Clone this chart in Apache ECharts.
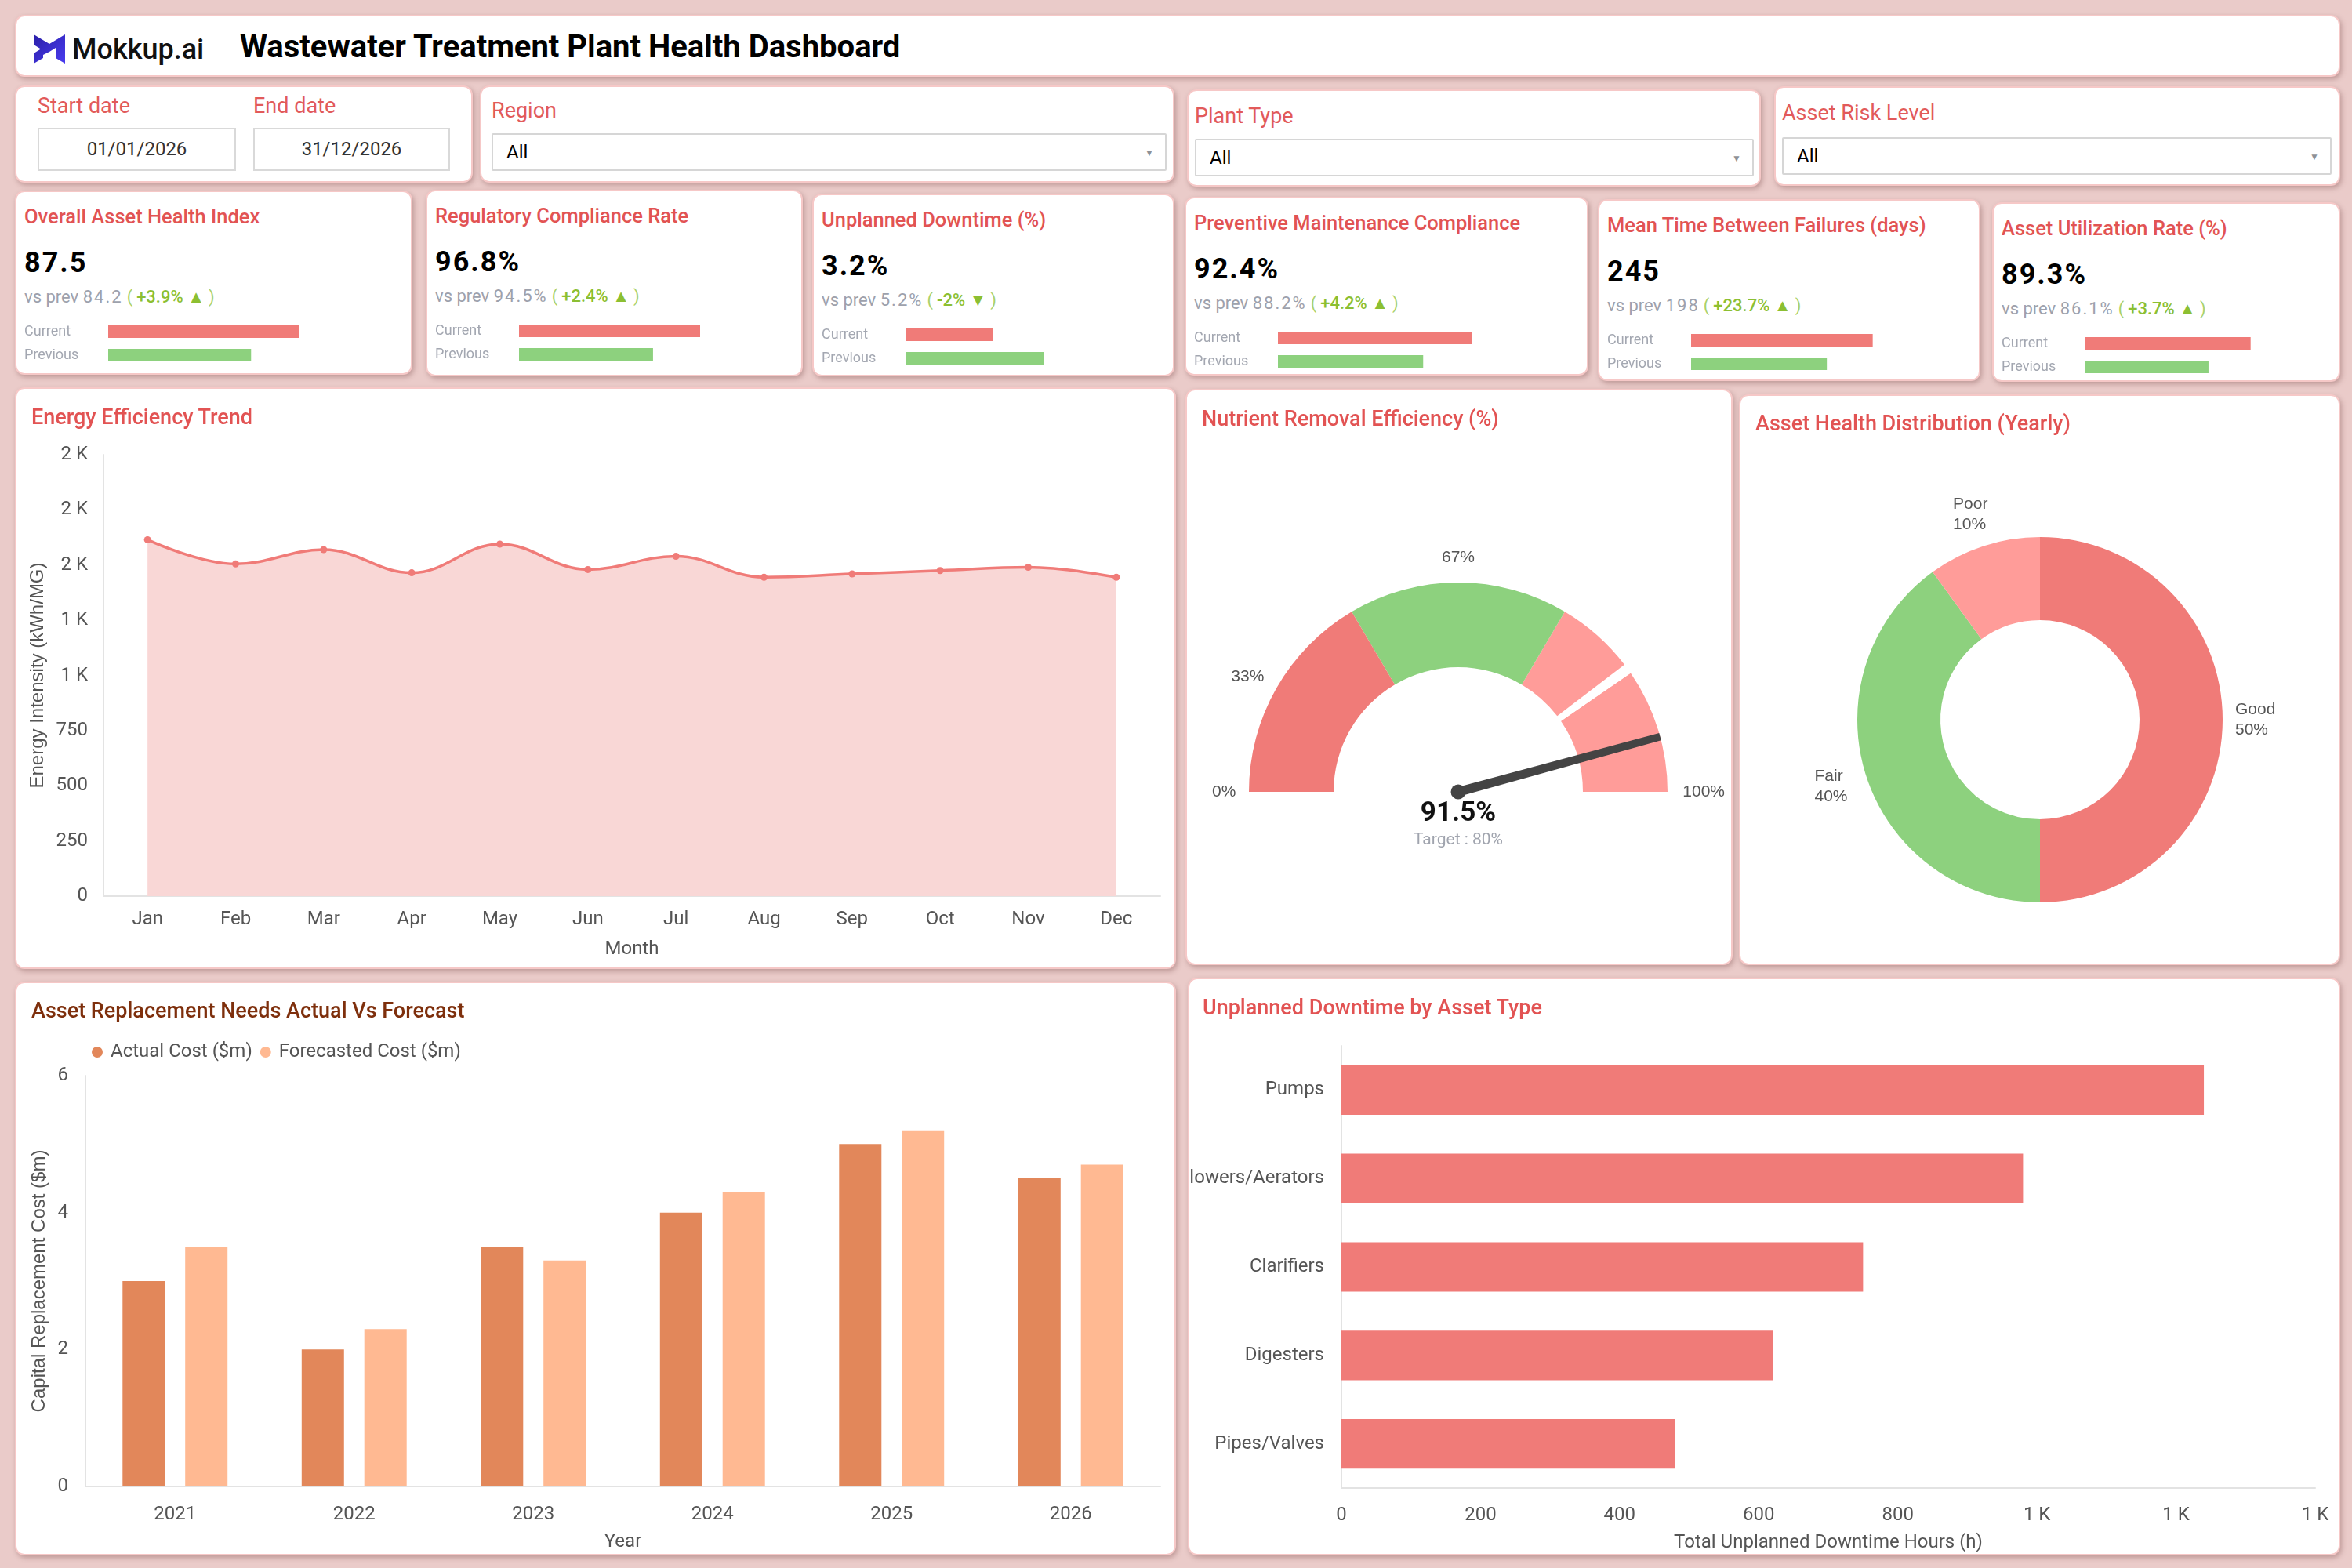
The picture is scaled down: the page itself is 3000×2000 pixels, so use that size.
<!DOCTYPE html>
<html>
<head>
<meta charset="utf-8">
<title>Wastewater Treatment Plant Health Dashboard</title>
<script src="https://cdn.jsdelivr.net/npm/echarts@6.0.0/dist/echarts.min.js"></script>
<style>
html, body { margin: 0; padding: 0; }
body {
  width: 3000px;
  height: 2000px;
  position: relative;
  overflow: hidden;
  background-color: #EACBC9;
  font-family: Roboto, "Noto Sans", sans-serif;
}
.card {
  position: absolute;
  box-sizing: border-box;
  background-color: #fff;
  border: 2px solid #F6C8C7;
  border-radius: 12px;
  box-shadow: 2px 3px 6px rgba(110, 60, 60, 0.35);
}
.card_title {
  position: absolute;
  left: 19px;
  top: 21px;
  font-size: 27px;
  font-weight: 500;
  line-height: 30px;
  color: #E25353;
  white-space: nowrap;
}
.chart {
  position: absolute;
  left: 0;
  top: 0;
  width: 100%;
  height: 100%;
}
.logo_text {
  position: absolute;
  left: 71px;
  top: 22px;
  font-size: 36px;
  font-weight: 500;
  line-height: 40px;
  color: #111;
}
.head_title {
  position: absolute;
  left: 285px;
  top: 17px;
  font-size: 40px;
  font-weight: 700;
  line-height: 44px;
  color: #000;
  white-space: nowrap;
}
.flabel {
  position: absolute;
  font-size: 27px;
  line-height: 30px;
  color: #E25A5A;
  white-space: nowrap;
}
.datebox {
  position: absolute;
  box-sizing: border-box;
  top: 52px;
  height: 55px;
  border: 2px solid #D9D9D9;
  text-align: center;
  font-size: 24px;
  line-height: 51px;
  color: #333;
}
.select {
  position: absolute;
  box-sizing: border-box;
  height: 48px;
  border: 2px solid #D6D6D6;
  border-radius: 2px;
  font-size: 24px;
  line-height: 44px;
  padding-left: 17px;
  color: #000;
}
.select .arrow {
  position: absolute;
  right: 14px;
  top: 1px;
  font-size: 12px;
  color: #8E9196;
}
.kpi_title {
  position: absolute;
  left: 10px;
  top: 17px;
  font-size: 25.5px;
  font-weight: 500;
  line-height: 28px;
  color: #E25353;
  white-space: nowrap;
}
.kpi_value {
  position: absolute;
  left: 10px;
  top: 70px;
  font-size: 36px;
  font-weight: 700;
  line-height: 40px;
  letter-spacing: 2px;
  color: #000;
}
.kpi_prev {
  position: absolute;
  left: 10px;
  top: 121px;
  font-size: 22px;
  line-height: 26px;
  color: #9DA1AC;
  white-space: nowrap;
}
.kpi_prev .num { letter-spacing: 2px; }
.kpi_prev .paren { color: #A9D16A; margin: 0 5px; }
.kpi_prev .delta { color: #8CBF32; font-weight: 500; }
.kpi_bars {
  position: absolute;
  left: 10px;
  top: 163px;
  height: 60px;
}
</style>
</head>
<body>

<!-- 顶部标题栏 -->
<div class="card" style="left:19px;top:19px;width:2966px;height:79px;">
  <svg style="position:absolute;left:22px;top:23px;" width="40" height="37" viewBox="0 0 40 37">
    <defs>
      <linearGradient id="lg" x1="0" y1="0" x2="1" y2="1">
        <stop offset="0" stop-color="#2A1FA8"/>
        <stop offset="1" stop-color="#4A3CF0"/>
      </linearGradient>
    </defs>
    <path d="M0 0 L20 12 L40 0 L40 37 L28 30 L28 17 L20 22 L12 17 L20 22 L12 26 L12 30 L0 37 L0 24 L9 18.5 L0 13 Z" fill="url(#lg)"/>
  </svg>
  <div class="logo_text">Mokkup.ai</div>
  <div style="position:absolute;left:268px;top:18px;width:1px;height:39px;background-color:#9A9A9A;"></div>
  <div class="head_title">Wastewater Treatment Plant Health Dashboard</div>
</div>

<!-- 筛选条件 -->
<div class="card" style="left:19px;top:109px;width:584px;height:124px;">
  <div class="flabel" style="left:27px;top:9px;">Start date</div>
  <div class="flabel" style="left:302px;top:9px;">End date</div>
  <div class="datebox" style="left:27px;width:253px;">01/01/2026</div>
  <div class="datebox" style="left:302px;width:251px;">31/12/2026</div>
</div>
<div class="card" style="left:612px;top:109px;width:886px;height:124px;">
  <div class="flabel" style="left:13px;top:15px;">Region</div>
  <div class="select" style="left:13px;top:59px;width:861px;">All<span class="arrow">▼</span></div>
</div>
<div class="card" style="left:1514px;top:114px;width:732px;height:124px;">
  <div class="flabel" style="left:8px;top:17px;">Plant Type</div>
  <div class="select" style="left:8px;top:61px;width:713px;">All<span class="arrow">▼</span></div>
</div>
<div class="card" style="left:2263px;top:110px;width:722px;height:127px;">
  <div class="flabel" style="left:8px;top:17px;">Asset Risk Level</div>
  <div class="select" style="left:8px;top:63px;width:701px;">All<span class="arrow">▼</span></div>
</div>

<!-- KPI 卡片 -->
<div class="card" id="kpi0" style="left:19px;top:243px;width:507px;height:235px;"><div class="kpi_bars" id="kpiBars0" style="width:354px;"></div></div>
<div class="card" id="kpi1" style="left:543px;top:242px;width:481px;height:238px;"><div class="kpi_bars" id="kpiBars1" style="width:342px;"></div></div>
<div class="card" id="kpi2" style="left:1036px;top:247px;width:462px;height:233px;"><div class="kpi_bars" id="kpiBars2" style="width:334px;"></div></div>
<div class="card" id="kpi3" style="left:1511px;top:251px;width:515px;height:228px;"><div class="kpi_bars" id="kpiBars3" style="width:358px;"></div></div>
<div class="card" id="kpi4" style="left:2038px;top:254px;width:488px;height:232px;"><div class="kpi_bars" id="kpiBars4" style="width:345px;"></div></div>
<div class="card" id="kpi5" style="left:2541px;top:258px;width:444px;height:229px;"><div class="kpi_bars" id="kpiBars5" style="width:326px;"></div></div>

<!-- 图表区域 -->
<div class="card" style="left:19px;top:494px;width:1481px;height:742px;">
  <div class="chart" id="energy"></div>
  <div class="card_title">Energy Efficiency Trend</div>
</div>
<div class="card" style="left:1512px;top:496px;width:698px;height:735px;">
  <div class="chart" id="nutrient"></div>
  <div class="card_title">Nutrient Removal Efficiency (%)</div>
</div>
<div class="card" style="left:2218px;top:503px;width:767px;height:728px;">
  <div class="chart" id="health"></div>
  <div class="card_title" style="top:20px;">Asset Health Distribution (Yearly)</div>
</div>
<div class="card" style="left:19px;top:1252px;width:1481px;height:732px;">
  <div class="chart" id="replacement"></div>
  <div class="card_title" style="top:20px;color:#7E2F0C;">Asset Replacement Needs Actual Vs Forecast</div>
</div>
<div class="card" style="left:1515px;top:1247px;width:1470px;height:737px;">
  <div class="chart" id="downtime"></div>
  <div class="card_title" style="left:17px;">Unplanned Downtime by Asset Type</div>
</div>

<script>
// KPI 数据
const kpiTitles = ['Overall Asset Health Index', 'Regulatory Compliance Rate', 'Unplanned Downtime (%)',
  'Preventive Maintenance Compliance', 'Mean Time Between Failures (days)', 'Asset Utilization Rate (%)'];
const kpiValues = ['87.5', '96.8%', '3.2%', '92.4%', '245', '89.3%'];
const kpiPrevious = ['84.2', '94.5%', '5.2%', '88.2%', '198', '86.1%'];
const kpiChange = ['+3.9%', '+2.4%', '-2%', '+4.2%', '+23.7%', '+3.7%'];
const kpiTrendUp = [true, true, false, true, true, true];
const kpiBarCurrent = [100, 100, 50, 100, 99, 98];
const kpiBarPrevious = [75, 74, 79, 75, 74, 73];
const barLabels = ['Current', 'Previous'];

// 能效趋势
const months = ['Jan', 'Feb', 'Mar', 'Apr', 'May', 'Jun', 'Jul', 'Aug', 'Sep', 'Oct', 'Nov', 'Dec'];
const energyIntensity = [1615, 1505, 1570, 1465, 1595, 1480, 1540, 1445, 1460, 1475, 1490, 1445];

// 营养物去除效率
const nutrientValue = 91.5;
const nutrientTarget = 80;
const gaugeBands = [33, 67, 100];

// 资产健康分布
const healthNames = ['Good', 'Fair', 'Poor'];
const healthShares = [50, 40, 10];

// 资产更换需求
const years = ['2021', '2022', '2023', '2024', '2025', '2026'];
const actualCost = [3.0, 2.0, 3.5, 4.0, 5.0, 4.5];
const forecastCost = [3.5, 2.3, 3.3, 4.3, 5.2, 4.7];

// 按资产类型的停机时间
const assetTypes = ['Pumps', 'Blowers/Aerators', 'Clarifiers', 'Digesters', 'Pipes/Valves'];
const downtimeHours = [1240, 980, 750, 620, 480];

const RED = '#F07B78';
const GREEN = '#8DD17E';
const PINK = '#FF9C99';
const AXIS_TEXT = '#555';
const AXIS_LINE = '#E3E3E3';
const TICK_FONT = {color: AXIS_TEXT, fontSize: 24, fontFamily: 'Roboto'};

function kFormat(v) {
  return v >= 1000 ? Math.round(v / 1000) + ' K' : String(v);
}

// KPI 卡片
kpiTitles.forEach(function (title, i) {
  let card = document.getElementById('kpi' + i);
  let text = document.createElement('div');
  text.innerHTML =
    '<div class="kpi_title">' + title + '</div>' +
    '<div class="kpi_value">' + kpiValues[i] + '</div>' +
    '<div class="kpi_prev">vs prev <span class="num">' + kpiPrevious[i] + '</span>' +
    '<span class="paren">(</span><span class="delta">' + kpiChange[i] + ' ' + (kpiTrendUp[i] ? '▲' : '▼') +
    '</span><span class="paren">)</span></div>';
  card.insertBefore(text, card.firstChild);

  let el = document.getElementById('kpiBars' + i);
  let chart = echarts.init(el, null);
  chart.setOption({
    animation: false,
    grid: {left: 107, right: el.offsetWidth - 107 - [243, 231, 223, 247, 234, 215][i], top: 0, bottom: 0, outerBoundsMode: 'none'},
    xAxis: {type: 'value', min: 0, max: 100, show: false},
    yAxis: {
      type: 'category', data: barLabels, inverse: true,
      axisLine: {show: false}, axisTick: {show: false},
      axisLabel: {align: 'left', margin: 107, color: '#A3A7B1', fontSize: 18, fontFamily: 'Roboto'}
    },
    series: [{
      type: 'bar', barWidth: 16,
      data: [
        {value: kpiBarCurrent[i], itemStyle: {color: RED}},
        {value: kpiBarPrevious[i], itemStyle: {color: GREEN}}
      ]
    }]
  });
});

// 能效趋势
let energyChart = echarts.init(document.getElementById('energy'), null);
energyChart.setOption({
  animation: false,
  grid: {left: 111, right: 18, top: 84, bottom: 91, outerBoundsMode: 'none'},
  xAxis: {
    type: 'category', data: months,
    axisLine: {lineStyle: {color: AXIS_LINE, width: 2}},
    axisTick: {show: false},
    axisLabel: Object.assign({margin: 18}, TICK_FONT),
    name: 'Month', nameLocation: 'middle', nameGap: 56,
    nameTextStyle: TICK_FONT
  },
  yAxis: {
    type: 'value', min: 0, max: 2000, interval: 250,
    axisLine: {show: true, lineStyle: {color: AXIS_LINE, width: 2}},
    splitLine: {show: false},
    axisLabel: Object.assign({margin: 20, formatter: kFormat}, TICK_FONT),
    name: 'Energy Intensity (kWh/MG)', nameLocation: 'middle', nameGap: 58,
    nameTextStyle: {color: AXIS_TEXT, fontSize: 24, fontFamily: 'Liberation Sans'}
  },
  series: [{
    type: 'line', data: energyIntensity, smooth: 0.4,
    symbol: 'circle', symbolSize: 9,
    lineStyle: {color: RED, width: 3.5},
    itemStyle: {color: RED},
    areaStyle: {color: '#F9D7D6', opacity: 1}
  }]
});

// 营养物去除效率仪表盘
const G_CENTER = [346, 512];
const G_RADIUS = 267;

// 只显示刻度文字的辅助仪表
function gaugeLabel(startAngle, endAngle, lo, hi, distance, shown) {
  return {
    type: 'gauge', center: G_CENTER, radius: G_RADIUS, silent: true,
    startAngle: startAngle, endAngle: endAngle, min: lo, max: hi, splitNumber: 1,
    axisLine: {show: false}, splitLine: {show: false, length: 0}, axisTick: {show: false},
    pointer: {show: false}, anchor: {show: false}, title: {show: false}, detail: {show: false},
    axisLabel: {
      distance: distance, color: AXIS_TEXT, fontSize: 21, fontFamily: 'Liberation Sans',
      formatter: function (v) { return Math.round(v) === shown ? shown + '%' : ''; }
    },
    data: [{value: lo}]
  };
}

let nutrientChart = echarts.init(document.getElementById('nutrient'), null);
let gap = nutrientTarget / 100;
nutrientChart.setOption({
  animation: false,
  series: [
    {
      type: 'gauge', center: G_CENTER, radius: G_RADIUS,
      startAngle: 180, endAngle: 0, min: 0, max: 100,
      axisLine: {lineStyle: {width: 108, color: [
        [gaugeBands[0] / 100, RED], [gaugeBands[1] / 100, GREEN],
        [gap - 0.008, PINK], [gap + 0.008, '#fff'], [gaugeBands[2] / 100, PINK]
      ]}},
      splitLine: {show: false},
      axisTick: {show: false},
      axisLabel: {show: false},
      pointer: {icon: 'path://M1 0 L9 0 L10 100 L0 100 Z', length: '100%', width: 12, itemStyle: {color: '#444'}},
      anchor: {show: true, size: 19, itemStyle: {color: '#444'}},
      title: {offsetCenter: [0, 62], color: '#A0A4AE', fontSize: 21, fontFamily: 'Roboto'},
      detail: {offsetCenter: [0, 28], color: '#111', fontSize: 35, fontWeight: 'bold', fontFamily: 'Roboto', formatter: '{value}%'},
      data: [{value: nutrientValue, name: 'Target : ' + nutrientTarget + '%'}]
    },
    gaugeLabel(180, 0, 0, 100, -57, 0),
    gaugeLabel(180, 0, 0, 100, -83, 100),
    gaugeLabel(153.2, 90, gaugeBands[0], gaugeBands[1], -67.5, gaugeBands[0]),
    gaugeLabel(153.2, 90, gaugeBands[0], gaugeBands[1], -52, gaugeBands[1])
  ]
});

// 资产健康分布
let healthChart = echarts.init(document.getElementById('health'), null);
let healthData = healthNames.map(function (n, i) {
  return {name: n, value: healthShares[i], itemStyle: {color: [RED, GREEN, PINK][i]}};
});
healthChart.setOption({
  animation: false,
  series: [
    {
      type: 'pie', center: [382, 413], radius: [127, 233], startAngle: 90,
      label: {show: false}, labelLine: {show: false},
      data: healthData
    },
    {
      // 标签环（透明）
      type: 'pie', center: [382, 413], radius: [270, 274], startAngle: 90, silent: true,
      itemStyle: {color: 'rgba(0,0,0,0)'},
      label: {
        position: 'inside', overflow: 'none',
        formatter: '{t|{b}}\n{t|{d}%}',
        rich: {t: {width: 52, align: 'left', color: AXIS_TEXT, fontSize: 21, lineHeight: 26, fontFamily: 'Liberation Sans'}}
      },
      labelLine: {show: false},
      data: healthNames.map(function (n, i) {
        return {name: n, value: healthShares[i], itemStyle: {color: 'rgba(0,0,0,0)'}};
      })
    }
  ]
});

// 资产更换需求
let replacementChart = echarts.init(document.getElementById('replacement'), null);
replacementChart.setOption({
  animation: false,
  legend: {
    left: 91, top: 71, icon: 'circle', itemWidth: 14, itemHeight: 14, itemGap: 10,
    textStyle: {color: AXIS_TEXT, fontSize: 24, fontFamily: 'Roboto', padding: [0, 0, 0, 5]}
  },
  grid: {left: 88, right: 18, top: 118, bottom: 86, outerBoundsMode: 'none'},
  xAxis: {
    type: 'category', data: years,
    axisLine: {lineStyle: {color: AXIS_LINE, width: 2}},
    axisTick: {show: false},
    axisLabel: Object.assign({margin: 24}, TICK_FONT),
    name: 'Year', nameLocation: 'middle', nameGap: 59,
    nameTextStyle: TICK_FONT
  },
  yAxis: {
    type: 'value', min: 0, max: 6, interval: 2,
    axisLine: {show: true, lineStyle: {color: AXIS_LINE, width: 2}},
    splitLine: {show: false},
    axisLabel: Object.assign({margin: 22}, TICK_FONT),
    name: 'Capital Replacement Cost ($m)', nameLocation: 'middle', nameGap: 36,
    nameTextStyle: {color: AXIS_TEXT, fontSize: 24, fontFamily: 'Liberation Sans'}
  },
  series: [
    {name: 'Actual Cost ($m)', type: 'bar', data: actualCost, barWidth: 54, barGap: '48%', itemStyle: {color: '#E2875A'}},
    {name: 'Forecasted Cost ($m)', type: 'bar', data: forecastCost, barWidth: 54, itemStyle: {color: '#FFB992'}}
  ]
});

// 按资产类型的停机时间
let downtimeChart = echarts.init(document.getElementById('downtime'), null);
downtimeChart.setOption({
  animation: false,
  grid: {left: 194, right: 30, top: 85, bottom: 84, outerBoundsMode: 'none'},
  xAxis: {
    type: 'value', min: 0, max: 1400, interval: 200,
    axisLine: {show: true, lineStyle: {color: AXIS_LINE, width: 2}},
    splitLine: {show: false},
    axisLabel: Object.assign({margin: 23, formatter: kFormat}, TICK_FONT),
    name: 'Total Unplanned Downtime Hours (h)', nameLocation: 'middle', nameGap: 58,
    nameTextStyle: TICK_FONT
  },
  yAxis: {
    type: 'category', data: assetTypes, inverse: true,
    axisLine: {lineStyle: {color: AXIS_LINE, width: 2}},
    axisTick: {show: false},
    axisLabel: Object.assign({margin: 22}, TICK_FONT)
  },
  series: [{type: 'bar', data: downtimeHours, barCategoryGap: '44%', itemStyle: {color: RED}}]
});
</script>
</body>
</html>
